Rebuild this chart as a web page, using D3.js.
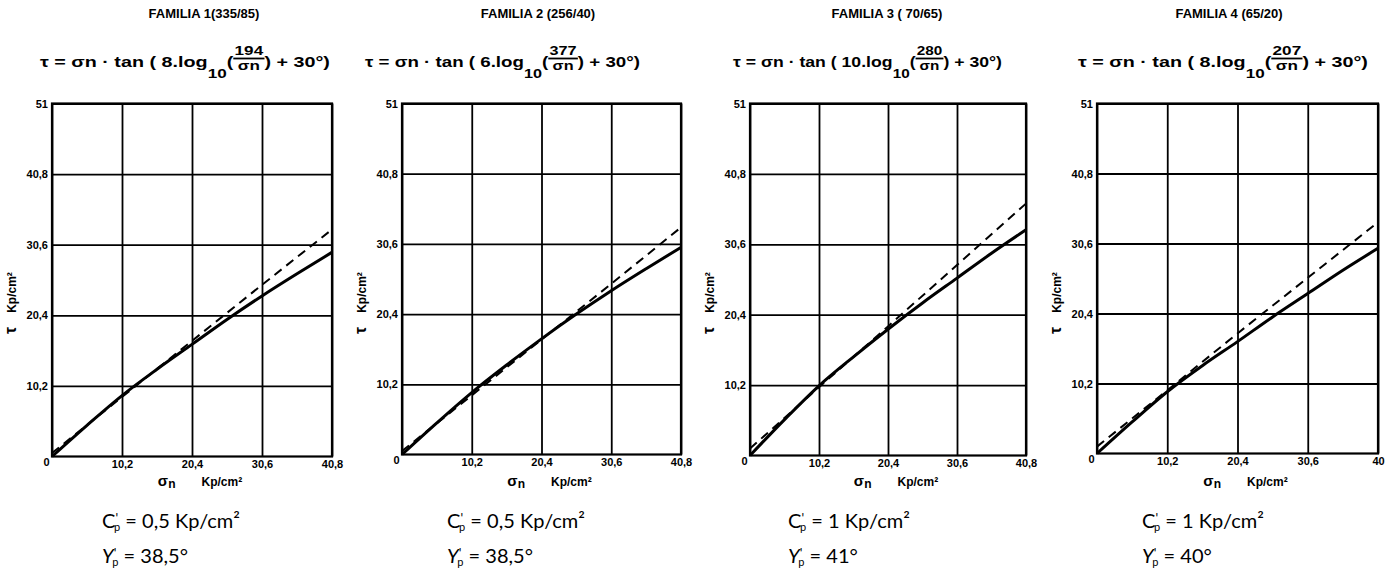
<!DOCTYPE html>
<html>
<head>
<meta charset="utf-8">
<script src="https://cdn.jsdelivr.net/npm/d3@7"></script>
<style>
  body { margin: 0; background: #fff; }
  svg { display: block; }
  .tick text { font-family: "Liberation Sans", Arial, sans-serif; font-weight: bold; font-size: 11px; fill: #000; }
</style>
</head>
<body>
<svg id="chart" width="1390" height="569"></svg>
<script>
// ---- data -------------------------------------------------------------
const familyTitles = ["FAMILIA 1(335/85)", "FAMILIA 2 (256/40)", "FAMILIA 3 ( 70/65)", "FAMILIA 4 (65/20)"];
const formulaCoef = ["8", "6", "10", "8"];
const formulaNum = ["194", "377", "280", "207"];
const cohesion = ["0,5", "0,5", "1", "1"];
const frictionAngle = ["38,5", "38,5", "41", "40"];

const xTickValues = [0, 10.2, 20.4, 30.6, 40.8];
const yTickValues = [10.2, 20.4, 30.6, 40.8, 51];
const xTickLabels = [
  ["0", "10,2", "20,4", "30,6", "40,8"],
  ["0", "10,2", "20,4", "30,6", "40,8"],
  ["0", "10,2", "20,4", "30,6", "40,8"],
  ["0", "10,2", "20,4", "30,6", "40"]
];
const yTickLabels = ["10,2", "20,4", "30,6", "40,8", "51"];

// peak strength envelope (solid curve), sampled at sigmaPeak
const sigmaPeak = [0, 5.1, 10.2, 15.3, 20.4, 25.5, 30.6, 35.7, 40.8];
const tauPeak1 = [0, 4.5, 8.8, 12.6, 16.2, 19.8, 23.2, 26.4, 29.5];
const tauPeak2 = [0, 4.6, 9.0, 13.0, 16.8, 20.4, 23.8, 27.0, 30.1];
const tauPeak3 = [0, 5.2, 10.1, 14.3, 18.3, 22.1, 25.7, 29.3, 32.7];
const tauPeak4 = [0, 4.6, 9.0, 12.8, 16.3, 19.9, 23.3, 26.7, 29.9];

// linear Mohr-Coulomb envelope (dashed), sampled at sigmaLinear
const sigmaLinear = [0, 10.2, 20.4, 30.6, 40.8];
const tauLinear1 = [0.5, 8.6, 16.7, 24.8, 32.8];
const tauLinear2 = [0.5, 8.6, 16.7, 24.8, 33.0];
const tauLinear3 = [1.0, 9.9, 18.7, 27.6, 36.5];
const tauLinear4 = [1.0, 9.2, 17.5, 25.6, 33.7];

const tauPeak = [tauPeak1, tauPeak2, tauPeak3, tauPeak4];
const tauLinear = [tauLinear1, tauLinear2, tauLinear3, tauLinear4];

// ---- layout -----------------------------------------------------------
const panels = [
  { left: 52,   width: 280, top: 103.5, bottom: 456.5, title: 204,  formula: [40, 330],   note: 102 },
  { left: 402,  width: 279, top: 103.5, bottom: 454.5, title: 538,  formula: [365, 640],  note: 447 },
  { left: 750,  width: 276, top: 103.5, bottom: 455.5, title: 887,  formula: [733, 1002], note: 788 },
  { left: 1097, width: 281, top: 103.5, bottom: 453.5, title: 1229, formula: [1078, 1368], note: 1142 }
];

const svg = d3.select("#chart");
const boldFont = '"Liberation Sans", Arial, sans-serif';
const noteFont = 'Lato, "Open Sans", sans-serif';

panels.forEach((p, i) => {
  const x = d3.scaleLinear().domain([0, 40.8]).range([p.left, p.left + p.width]);
  const y = d3.scaleLinear().domain([0, 51]).range([p.bottom, p.top]);
  const h = p.bottom - p.top;
  const g = svg.append("g");

  // title
  g.append("text")
    .attr("x", p.title).attr("y", 18)
    .attr("text-anchor", "middle")
    .style("font-family", boldFont).style("font-weight", "900").style("font-size", "13px")
    .text(familyTitles[i]);

  // formula τ = σn · tan(k.log10(a/σn) + 30°)
  const fg = g.append("g");
  const fs = "15px";
  let cx = 0;
  function piece(str, dy, size) {
    const t = fg.append("text").attr("x", cx).attr("y", 67 + (dy || 0))
      .style("font-family", boldFont).style("font-weight", "bold").style("font-size", size || fs)
      .text(str);
    cx += t.node().getComputedTextLength();
    return t;
  }
  piece("τ = σn · tan ( " + formulaCoef[i] + ".log");
  piece("10", 11, "13px");
  piece("( ");
  // fraction
  const numT = fg.append("text").attr("y", 55)
    .style("font-family", boldFont).style("font-weight", "bold").style("font-size", "13px")
    .attr("text-anchor", "middle").text(formulaNum[i]);
  const denT = fg.append("text").attr("y", 70)
    .style("font-family", boldFont).style("font-weight", "bold").style("font-size", "13px")
    .attr("text-anchor", "middle").text("σn");
  const fw = Math.max(numT.node().getComputedTextLength(), denT.node().getComputedTextLength()) + 2;
  numT.attr("x", cx + fw / 2);
  denT.attr("x", cx + fw / 2);
  fg.append("line").attr("x1", cx).attr("x2", cx + fw).attr("y1", 58.5).attr("y2", 58.5)
    .attr("stroke", "#000").attr("stroke-width", 1.8);
  cx += fw;
  piece(" ) + 30°)");
  const target = p.formula[1] - p.formula[0];
  const sx = target / cx;
  fg.attr("transform", `translate(${p.formula[0]},0) scale(${sx},1)`);

  // grid via axes
  const xAxis = d3.axisBottom(x).tickValues(xTickValues).tickSize(-h).tickPadding(4)
    .tickFormat((d, j) => xTickLabels[i][j]);
  const gx = g.append("g").attr("transform", `translate(0,${p.bottom})`).call(xAxis);
  gx.select(".domain").remove();
  gx.selectAll(".tick line").attr("stroke", "#000").attr("stroke-width", 1.8);
  gx.selectAll(".tick text").filter((d, j) => j === 0).attr("x", -6).attr("dy", "0.5em");

  const yAxis = d3.axisLeft(y).tickValues(yTickValues).tickSize(-p.width).tickPadding(4)
    .tickFormat((d, j) => yTickLabels[j]);
  const gy = g.append("g").attr("transform", `translate(${p.left},0)`).call(yAxis);
  gy.select(".domain").remove();
  gy.selectAll(".tick line").attr("stroke", "#000").attr("stroke-width", 1.8);

  // frame
  g.append("rect").attr("x", p.left).attr("y", p.top).attr("width", p.width).attr("height", h)
    .attr("fill", "none").attr("stroke", "#000").attr("stroke-width", 2.2);

  // linear envelope (dashed)
  const lin = sigmaLinear.map((s, j) => [s, tauLinear[i][j]]);
  g.append("path").datum(lin)
    .attr("d", d3.line().x(d => x(d[0])).y(d => y(d[1])))
    .attr("fill", "none").attr("stroke", "#000").attr("stroke-width", 2)
    .attr("stroke-dasharray", "9,6");

  // peak envelope (solid)
  const peak = sigmaPeak.map((s, j) => [s, tauPeak[i][j]]);
  g.append("path").datum(peak)
    .attr("d", d3.line().curve(d3.curveMonotoneX).x(d => x(d[0])).y(d => y(d[1])))
    .attr("fill", "none").attr("stroke", "#000").attr("stroke-width", 3);

  // axis titles
  const xc = (p.left + p.left + p.width) / 2 + 8;
  const xt = g.append("text").attr("x", xc).attr("y", 486).attr("text-anchor", "middle")
    .style("font-family", boldFont).style("font-weight", "bold").style("font-size", "12px");
  xt.append("tspan").style("font-size", "15px").text("σ");
  xt.append("tspan").attr("dy", 2).text("n");
  xt.append("tspan").attr("dx", 26).attr("dy", -2).text("Kp/cm²");

  const yt = g.append("text")
    .attr("transform", `translate(${p.left - 36},334) rotate(-90)`)
    .style("font-family", boldFont).style("font-weight", "bold").style("font-size", "12px");
  yt.append("tspan").style("font-size", "16px").text("τ");
  yt.append("tspan").attr("dx", 14).text("Kp/cm²");

  // strength parameters
  const c = g.append("text").attr("x", p.note).attr("y", 528)
    .style("font-family", noteFont).style("font-size", "20px");
  c.append("tspan").text("C");
  c.append("tspan").attr("dy", -5).style("font-size", "13px").text("'");
  c.append("tspan").attr("dx", -4).attr("dy", 8).style("font-size", "11px").text("p");
  c.append("tspan").attr("dy", -3).text(" = " + cohesion[i] + " Kp/cm²");

  const f = g.append("text").attr("x", p.note).attr("y", 563)
    .style("font-family", noteFont).style("font-size", "20px");
  f.append("tspan").style("font-style", "italic").text("Y");
  f.append("tspan").attr("dy", -5).style("font-size", "13px").text("'");
  f.append("tspan").attr("dx", -4).attr("dy", 8).style("font-size", "11px").text("p");
  f.append("tspan").attr("dy", -3).text(" = " + frictionAngle[i] + "°");
});
</script>
</body>
</html>
